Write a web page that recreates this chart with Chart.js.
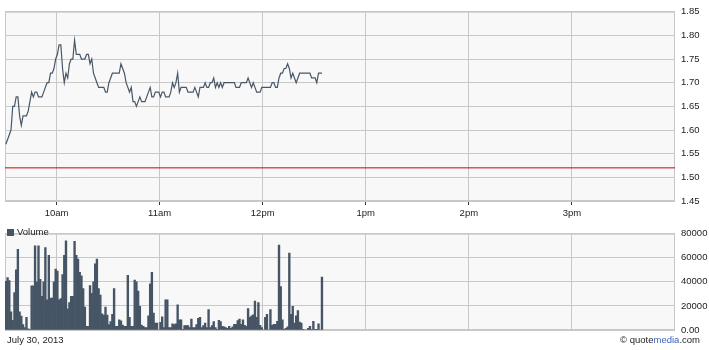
<!DOCTYPE html>
<html>
<head>
  <meta charset="UTF-8">
  <title>Intraday chart - July 30, 2013</title>
  <script src="https://cdn.jsdelivr.net/npm/chart.js"></script>
  <style>
    body { margin: 0; background: #fff; }
    #wrap { position: relative; width: 709px; height: 350px; font-family: "Liberation Sans", Arial, sans-serif; font-size: 9.5px; color: #222; }
    #wrap canvas { position: absolute; left: 0; }
    #priceChart { top: 0; }
    #volumeChart { top: 222px; }
    .note { position: absolute; white-space: nowrap; line-height: 12px; }
    #legendBox { position: absolute; left: 7px; top: 229px; width: 7px; height: 7px; background: #465565; }
  </style>
</head>
<body>
<div id="wrap">
  <canvas id="priceChart" width="709" height="222"></canvas>
  <canvas id="volumeChart" width="709" height="128"></canvas>
  <div id="legendBox"></div>
  <div class="note" style="left:17px; top:226px;">Volume</div>
  <div class="note" style="left:7px; top:334px;">July 30, 2013</div>
  <div class="note" style="right:9px; top:334px;">&copy; quote<span style="color:#3b63c4">media</span>.com</div>
</div>

<script>
// one value per minute, starting at 9:30
var openMinute = 570;   // 9:30 in minutes after midnight
var closeMinute = 960;  // 16:00
var prevClose = 1.52;

var prices = [
  1.57,1.58,1.59,1.60,1.65,1.65,1.67,1.67,1.63,1.61,
  1.63,1.63,1.63,1.64,1.66,1.68,1.67,1.68,1.68,1.67,
  1.67,1.67,1.68,1.69,1.70,1.70,1.72,1.72,1.73,1.75,
  1.76,1.78,1.78,1.73,1.70,1.72,1.71,1.74,1.75,1.75,
  1.79,1.76,1.76,1.76,1.75,1.75,1.75,1.76,1.76,1.74,
  1.75,1.72,1.71,1.70,1.69,1.69,1.69,1.69,1.68,1.68,
  1.70,1.71,1.72,1.72,1.72,1.72,1.72,1.74,1.73,1.72,
  1.70,1.69,1.68,1.69,1.66,1.66,1.65,1.66,1.67,1.66,
  1.66,1.66,1.67,1.68,1.69,1.67,1.67,1.68,1.68,1.68,
  1.67,1.68,1.68,1.67,1.67,1.67,1.68,1.70,1.69,1.70,
  1.72,1.68,1.69,1.69,1.69,1.69,1.68,1.68,1.68,1.68,
  1.69,1.68,1.67,1.69,1.69,1.69,1.70,1.69,1.69,1.70,
  1.70,1.71,1.69,1.70,1.69,1.70,1.69,1.70,1.70,1.70,
  1.70,1.70,1.70,1.70,1.69,1.69,1.69,1.70,1.70,1.70,
  1.70,1.71,1.70,1.69,1.70,1.69,1.68,1.68,1.68,1.69,
  1.69,1.69,1.69,1.69,1.69,1.70,1.70,1.69,1.69,1.71,
  1.72,1.72,1.73,1.73,1.74,1.73,1.71,1.72,1.71,1.70,
  1.71,1.72,1.72,1.72,1.72,1.72,1.72,1.72,1.71,1.71,
  1.71,1.70,1.72,1.72,1.72
];

var volumes = [
  40500,43600,41000,15000,8000,31000,50000,67000,15000,11500,
  4500,2000,10500,1000,500,36600,36600,70000,40000,70000,
  42000,28000,40000,68500,25000,62000,26600,26600,40000,50700,
  49000,25000,26000,46000,62000,74000,17500,22700,28000,28000,
  73700,62000,59000,48000,45000,34500,19000,3000,3000,37000,
  30500,40000,55000,59000,34500,29000,13500,12300,19000,12300,
  4500,7000,13000,34500,3000,3000,8400,7600,4000,3000,
  3000,45500,10500,3000,3000,41500,40000,32400,19600,4000,
  3000,2000,2000,11800,38400,48000,14000,5700,5700,0,
  6300,11000,2000,25000,25000,2000,2000,5200,4500,5200,
  21000,8400,8400,500,3600,3600,3600,2000,9000,2000,
  2000,4500,9700,10500,2000,3600,5700,2000,17000,2000,
  3600,7000,2000,500,8000,7000,3000,2600,2000,1300,
  3000,1300,2600,4700,4700,7800,9000,4700,8400,3900,
  3000,17800,10500,11700,12500,24000,10500,22700,3900,2000,
  0,10500,13000,0,17000,3900,4700,4700,7300,70600,
  36000,8400,500,1300,2600,64000,13000,19600,5700,11700,
  16200,6500,5700,500,0,0,1300,3000,500,7300,
  500,500,5200,0,44000
];

var hourTicks = [600, 660, 720, 780, 840, 900];
var hourLabels = ['10am', '11am', '12pm', '1pm', '2pm', '3pm'];
var priceTicks = [1.45, 1.50, 1.55, 1.60, 1.65, 1.70, 1.75, 1.80, 1.85];
var volumeTicks = [0, 20000, 40000, 60000, 80000];

Chart.defaults.font.family = '"Liberation Sans", Arial, sans-serif';
Chart.defaults.font.size = 9.5;
Chart.defaults.color = '#222';

function toPoints(arr) {
  return arr.map(function(v, i) { return { x: openMinute + i + 0.5, y: v }; });
}

// plot background and frame
var framePlugin = {
  id: 'frame',
  beforeDraw: function(chart) {
    var a = chart.chartArea, ctx = chart.ctx;
    ctx.save();
    ctx.fillStyle = '#f8f8f8';
    ctx.fillRect(a.left, a.top, a.right - a.left, a.bottom - a.top);
    ctx.restore();
  },
  beforeDatasetsDraw: function(chart) {
    var a = chart.chartArea, ctx = chart.ctx;
    ctx.save();
    ctx.strokeStyle = '#c8c8c8';
    ctx.lineWidth = 1;
    ctx.strokeRect(a.left + 0.5, a.top + 0.5, a.right - a.left - 1, a.bottom - a.top - 1);
    ctx.restore();
  }
};

function xScale(showLabels, height) {
  return {
    type: 'linear',
    min: openMinute,
    max: closeMinute,
    offset: false,
    afterBuildTicks: function(s) { s.ticks = hourTicks.map(function(v) { return { value: v }; }); },
    afterFit: function(s) { s.height = height; },
    grid: { color: '#c8c8c8', offset: false, drawTicks: showLabels, tickLength: 4, tickColor: '#333' },
    border: { display: false },
    ticks: {
      display: showLabels,
      padding: 3,
      maxRotation: 0,
      autoSkip: false,
      callback: function(v) { return hourLabels[hourTicks.indexOf(v)]; }
    }
  };
}

function yScale(min, max, tickList, fmt) {
  return {
    position: 'right',
    min: min,
    max: max,
    afterBuildTicks: function(s) { s.ticks = tickList.map(function(v) { return { value: v }; }); },
    afterFit: function(s) { s.width = 34; },
    grid: { color: '#c8c8c8', drawTicks: false },
    border: { display: false },
    ticks: { padding: 6, crossAlign: 'near', callback: fmt }
  };
}

new Chart(document.getElementById('priceChart'), {
  type: 'line',
  data: {
    datasets: [{
      data: toPoints(prices),
      borderColor: '#485767',
      borderWidth: 1.2,
      pointRadius: 0,
      tension: 0
    }, {
      data: [{ x: openMinute, y: prevClose }, { x: closeMinute, y: prevClose }],
      borderColor: '#cc0000',
      borderWidth: 1,
      pointRadius: 0
    }]
  },
  options: {
    responsive: false,
    animation: false,
    layout: { padding: { left: 5, top: 8, right: 0, bottom: 0 } },
    plugins: { legend: { display: false }, tooltip: { enabled: false } },
    scales: {
      x: xScale(true, 21),
      y: yScale(1.45, 1.85, priceTicks, function(v) { return v.toFixed(2); })
    }
  },
  plugins: [framePlugin]
});

new Chart(document.getElementById('volumeChart'), {
  type: 'bar',
  data: {
    datasets: [{
      label: 'Volume',
      data: toPoints(volumes),
      backgroundColor: '#465565',
      barPercentage: 1,
      categoryPercentage: 1
    }]
  },
  options: {
    responsive: false,
    animation: false,
    layout: { padding: { left: 5, top: 6, right: 0, bottom: 0 } },
    plugins: { legend: { display: false }, tooltip: { enabled: false } },
    scales: {
      x: xScale(false, 20),
      y: yScale(0, 80000, volumeTicks, function(v) { return v === 0 ? '0.00' : String(v); })
    }
  },
  plugins: [framePlugin]
});
</script>
</body>
</html>
